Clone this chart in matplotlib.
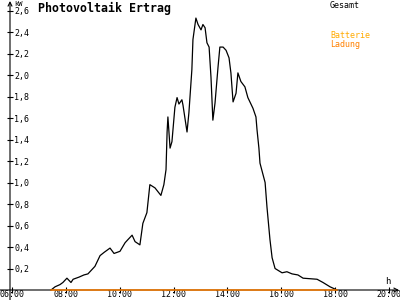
import matplotlib
matplotlib.use("Agg")
import matplotlib.pyplot as plt

# Gesamt-Leistung (kW) über die Uhrzeit (h)
hours = [7.45, 7.60, 7.78, 7.89, 8.04, 8.19, 8.27, 8.49, 8.67, 8.82,
         9.08, 9.27, 9.42, 9.64, 9.79, 10.01, 10.20, 10.31, 10.46, 10.57,
         10.75, 10.86, 11.01, 11.12, 11.31, 11.53, 11.64, 11.72, 11.76, 11.79,
         11.87, 11.94, 12.05, 12.13, 12.20, 12.31, 12.35, 12.50, 12.57, 12.68,
         12.72, 12.83, 12.91, 13.02, 13.09, 13.17, 13.24, 13.32, 13.39, 13.46,
         13.54, 13.65, 13.72, 13.84, 13.95, 14.06, 14.13, 14.21, 14.32, 14.39,
         14.50, 14.65, 14.76, 14.95, 15.06, 15.10, 15.17, 15.21, 15.40, 15.47,
         15.58, 15.66, 15.77, 16.03, 16.21, 16.40, 16.62, 16.81, 17.33, 17.55,
         17.81, 18.07]
gesamt = [0.0, 0.03, 0.05, 0.07, 0.11, 0.07, 0.10, 0.12, 0.14, 0.15,
          0.22, 0.32, 0.35, 0.39, 0.34, 0.36, 0.44, 0.47, 0.51, 0.45,
          0.42, 0.62, 0.72, 0.98, 0.95, 0.88, 0.98, 1.12, 1.47, 1.61,
          1.32, 1.38, 1.70, 1.79, 1.73, 1.77, 1.72, 1.47, 1.65, 2.05,
          2.33, 2.53, 2.47, 2.42, 2.47, 2.44, 2.30, 2.26, 1.98, 1.58,
          1.74, 2.07, 2.26, 2.26, 2.23, 2.16, 2.02, 1.75, 1.83, 2.02,
          1.94, 1.89, 1.79, 1.69, 1.61, 1.49, 1.32, 1.18, 1.00, 0.77,
          0.47, 0.30, 0.20, 0.16, 0.17, 0.15, 0.14, 0.11, 0.10, 0.07,
          0.03, 0.0]
ladung = [0.0] * len(hours)

x_ticks = [6, 8, 10, 12, 14, 16, 18, 20]
x_labels = ["06:00", "08:00", "10:00", "12:00", "14:00", "16:00", "18:00", "20:00"]
y_ticks = [0.2, 0.4, 0.6, 0.8, 1.0, 1.2, 1.4, 1.6, 1.8, 2.0, 2.2, 2.4, 2.6]
y_labels = ["0,2", "0,4", "0,6", "0,8", "1,0", "1,2", "1,4", "1,6", "1,8",
            "2,0", "2,2", "2,4", "2,6"]

mono = "DejaVu Sans Mono"

fig = plt.figure(figsize=(4, 3), dpi=100)
ax = fig.add_axes([0, 0, 1, 1])
ax.set_xlim(5.554, 20.41)
ax.set_ylim(-0.093, 2.698)

# axes crossing like in the original (drawn as arrows)
ax.annotate("", xy=(10 / 400, 1 - 1 / 300), xytext=(10 / 400, 0),
            xycoords="axes fraction",
            arrowprops=dict(arrowstyle="->", lw=0.8, color="black",
                            mutation_scale=7, shrinkA=0, shrinkB=0))
ax.annotate("", xy=(399 / 400, 10 / 300), xytext=(0, 10 / 300),
            xycoords="axes fraction",
            arrowprops=dict(arrowstyle="->", lw=0.8, color="black",
                            mutation_scale=7, shrinkA=0, shrinkB=0))

ax.plot(hours, gesamt, color="black", lw=0.9, zorder=3)
ax.plot(hours, ladung, color="#ff8000", lw=1.1, zorder=4)

for s in ["top", "right", "left", "bottom"]:
    ax.spines[s].set_color("none")
ax.spines["left"].set_position(("data", 5.93))
ax.spines["bottom"].set_position(("data", 0))

ax.set_xticks(x_ticks)
ax.set_xticklabels(x_labels, fontfamily=mono, fontsize=6)
ax.set_yticks(y_ticks)
ax.set_yticklabels(y_labels, fontfamily=mono, fontsize=6)
ax.tick_params(axis="x", direction="inout", length=4.3, width=0.8, pad=-2.2)
ax.tick_params(axis="y", direction="inout", length=4.3, width=0.8, pad=-5.0)
for t in ax.get_yticklabels():
    t.set_horizontalalignment("left")

ax.text(38 / 400, 1 - 8 / 300, "Photovoltaik Ertrag", transform=ax.transAxes,
        fontfamily=mono, fontweight="bold", fontsize=8.4, va="center", ha="left")
ax.text(14 / 400, 1 - 4 / 300, "kW", transform=ax.transAxes,
        fontfamily=mono, fontsize=5, va="center", ha="left")
ax.text(388 / 400, 1 - 281 / 300, "h", transform=ax.transAxes,
        fontfamily=mono, fontsize=6.5, va="center", ha="center")
ax.text(330 / 400, 1 - 5 / 300, "Gesamt", transform=ax.transAxes,
        fontfamily=mono, fontsize=6, va="center", ha="left", color="black")
ax.text(330 / 400, 1 - 36 / 300, "Batterie", transform=ax.transAxes,
        fontfamily=mono, fontsize=6, va="center", ha="left", color="#ffaa00")
ax.text(330 / 400, 1 - 44 / 300, "Ladung", transform=ax.transAxes,
        fontfamily=mono, fontsize=6, va="center", ha="left", color="#ff8000")

fig.savefig("out.png", dpi=100)
